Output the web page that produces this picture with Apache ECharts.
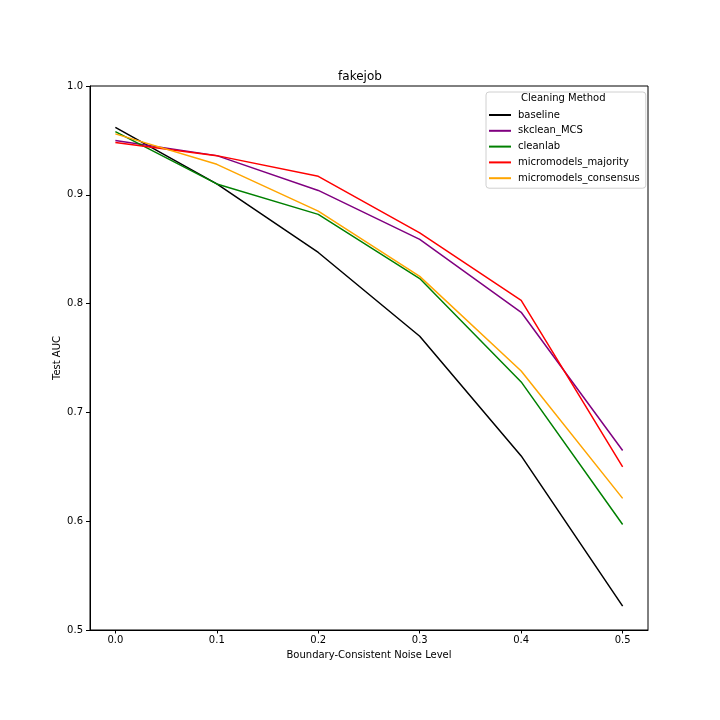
<!DOCTYPE html>
<html>
<head>
<meta charset="utf-8">
<script src="https://cdn.jsdelivr.net/npm/echarts@6/dist/echarts.min.js"></script>
<style>html,body{margin:0;padding:0;background:#fff}#c{width:720px;height:720px}</style>
</head>
<body>
<div id="c"></div>
<script>
const noiseLevels = [0.0, 0.1, 0.2, 0.3, 0.4, 0.5];
const xTicks = [0.0, 0.1, 0.2, 0.3, 0.4, 0.5];
const yTicks = [0.5, 0.6, 0.7, 0.8, 0.9, 1.0];
const methodNames = ["baseline", "skclean_MCS", "cleanlab", "micromodels_majority", "micromodels_consensus"];
const baseline = [0.962, 0.910, 0.847, 0.770, 0.660, 0.522];
const skclean_MCS = [0.950, 0.936, 0.904, 0.859, 0.792, 0.665];
const cleanlab = [0.958, 0.910, 0.882, 0.823, 0.728, 0.597];
const micromodels_majority = [0.948, 0.936, 0.917, 0.865, 0.803, 0.650];
const micromodels_consensus = [0.956, 0.928, 0.885, 0.825, 0.738, 0.621];
const seriesValues = [baseline, skclean_MCS, cleanlab, micromodels_majority, micromodels_consensus];
const colors = ["#000000", "#800080", "#008000", "#ff0000", "#ffa500"];

const font = "DejaVu Sans";
const chart = echarts.init(document.getElementById('c'), null, {renderer: 'canvas'});
chart.setOption({
  animation: false,
  backgroundColor: '#fff',
  title: {text: 'fakejob', left: 'center', top: 66, textStyle: {fontFamily: font, fontSize: 12, fontWeight: 'normal', color: '#000'}},
  grid: {left: 90, top: 86, width: 558, height: 544, show: true, borderColor: '#000', borderWidth: 1, containLabel: false},
  xAxis: {
    type: 'value', min: -0.025, max: 0.525,
    name: 'Boundary-Consistent Noise Level', nameLocation: 'middle', nameGap: 20, nameMoveOverlap: false,
    nameTextStyle: {fontFamily: font, fontSize: 10, color: '#000'},
    axisLine: {show: true, onZero: false, lineStyle: {color: '#000', width: 1}},
    axisTick: {show: true, length: 3.5, lineStyle: {color: '#000'}, customValues: xTicks},
    axisLabel: {fontFamily: font, fontSize: 10, color: '#000', margin: 5, customValues: xTicks, formatter: v => v.toFixed(1)},
    splitLine: {show: false}
  },
  yAxis: {
    type: 'value', min: 0.5, max: 1.0,
    name: 'Test AUC', nameLocation: 'middle', nameGap: 28, nameRotate: 90, nameMoveOverlap: false,
    nameTextStyle: {fontFamily: font, fontSize: 10, color: '#000'},
    axisLine: {show: true, onZero: false, lineStyle: {color: '#000', width: 1}},
    axisTick: {show: true, length: 4, lineStyle: {color: '#000'}, customValues: yTicks},
    axisLabel: {fontFamily: font, fontSize: 10, color: '#000', margin: 7, customValues: yTicks, formatter: v => v.toFixed(1)},
    splitLine: {show: false}
  },
  legend: {
    orient: 'vertical', left: 486, top: 92,
    data: methodNames,
    backgroundColor: '#fff', borderColor: '#d0d0d0', borderWidth: 1, borderRadius: 3,
    padding: [17, 6, 4, 3],
    itemWidth: 22, itemHeight: 2, itemGap: 3.8,
    icon: 'rect',
    textStyle: {fontFamily: font, fontSize: 10, color: '#000', lineHeight: 12, padding: [0, 0, 0, 2]}
  },
  graphic: [{
    type: 'text', left: 521, top: 93, z: 1000,
    style: {text: 'Cleaning Method', font: '10px "DejaVu Sans"', fill: '#000'}
  }],
  series: methodNames.map((n, i) => ({
    name: n, type: 'line', symbol: 'none',
    data: noiseLevels.map((x, j) => [x, seriesValues[i][j]]),
    lineStyle: {color: colors[i], width: 1.5},
    itemStyle: {color: colors[i]}
  }))
});
</script>
</body>
</html>
